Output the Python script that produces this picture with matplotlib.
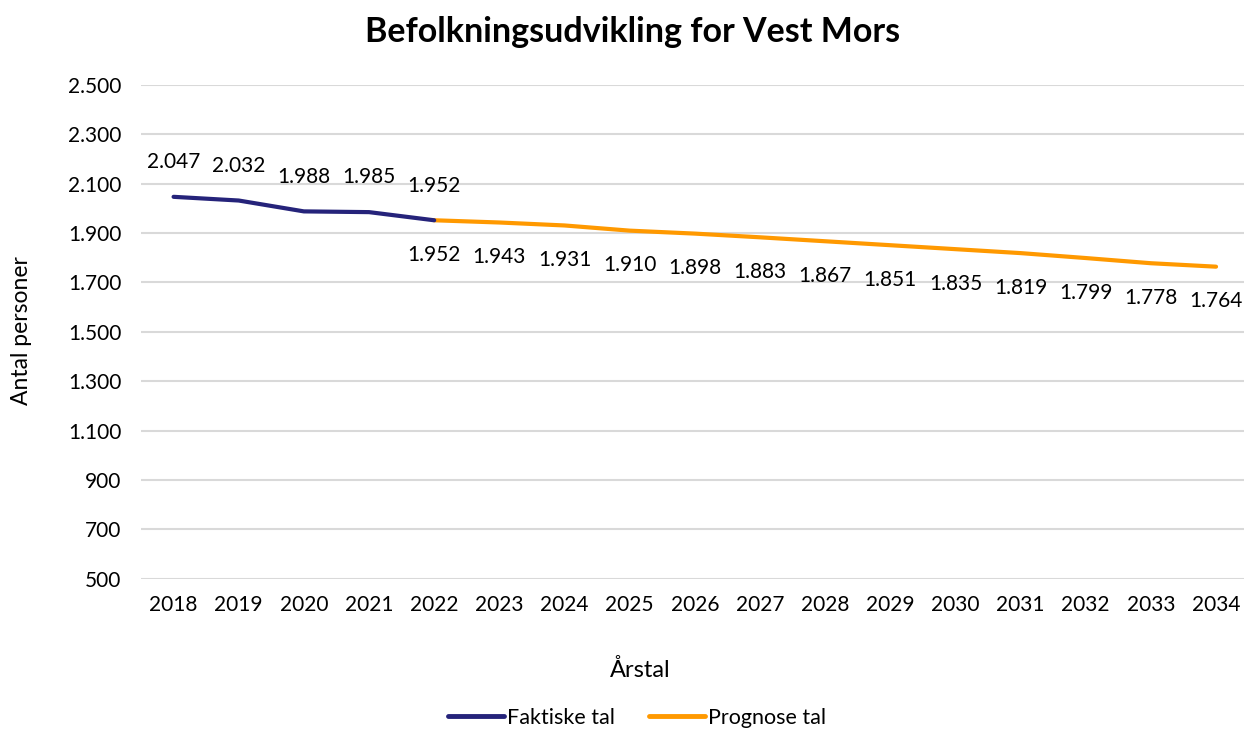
import matplotlib
matplotlib.use("Agg")
import matplotlib.pyplot as plt

# Population data for Vest Mors
years_actual = [2018, 2019, 2020, 2021, 2022]
values_actual = [2047, 2032, 1988, 1985, 1952]
years_forecast = [2022, 2023, 2024, 2025, 2026, 2027, 2028, 2029, 2030,
                  2031, 2032, 2033, 2034]
values_forecast = [1952, 1943, 1931, 1910, 1898, 1883, 1867, 1851, 1835,
                   1819, 1799, 1778, 1764]
all_years = list(range(2018, 2035))
y_ticks = [500, 700, 900, 1100, 1300, 1500, 1700, 1900, 2100, 2300, 2500]

title = "Befolkningsudvikling for Vest Mors"
x_label = "Årstal"
y_label = "Antal personer"
label_actual = "Faktiske tal"
label_forecast = "Prognose tal"

plt.rcParams["font.family"] = ["Lato", "DejaVu Sans"]

W, H = 1244, 731
fig = plt.figure(figsize=(W / 100, H / 100), dpi=100)
left, right = 141, 1248.6
top, bottom = 85, 578.7
ax = fig.add_axes([left / W, (H - bottom) / H, (right - left) / W, (bottom - top) / H])

navy = "#25237A"
orange = "#FF9900"


def fmt(v):
    return f"{v:,}".replace(",", ".")


idx = {y: i for i, y in enumerate(all_years)}
xa = [idx[y] for y in years_actual]
xf = [idx[y] for y in years_forecast]

ax.plot(xf, values_forecast, color=orange, lw=3.0, solid_capstyle="round", zorder=3,
        label=label_forecast)
ax.plot(xa, values_actual, color=navy, lw=3.0, solid_capstyle="round", zorder=4,
        label=label_actual)

for x, v in zip(xa, values_actual):
    ax.annotate(fmt(v), (x, v), xytext=(0, 25), textcoords="offset points",
                ha="center", va="center", fontsize=15, color="#000000")
for x, v in zip(xf, values_forecast):
    ax.annotate(fmt(v), (x, v), xytext=(0, -25), textcoords="offset points",
                ha="center", va="center", fontsize=15, color="#000000")

ax.set_xlim(-0.5, len(all_years) - 0.5)
ax.set_ylim(500, 2500)
ax.set_xticks(range(len(all_years)))
ax.set_xticklabels([str(y) for y in all_years])
ax.set_yticks(y_ticks)
ax.set_yticklabels([fmt(v) for v in y_ticks])
ax.tick_params(axis="both", length=0, labelsize=15, colors="#000000")
ax.tick_params(axis="x", pad=12)
ax.tick_params(axis="y", pad=14)
ax.grid(axis="y", color="#D9D9D9", lw=1.5)
ax.set_axisbelow(True)
for s in ax.spines.values():
    s.set_visible(False)

fig.text(633 / W, 1 - 32 / H, title, ha="center", va="center",
         fontsize=24.5, fontweight="bold")
fig.text(22 / W, 1 - 331 / H, y_label, ha="center", va="center",
         rotation=90, fontsize=16.5)
fig.text(640 / W, 1 - 670 / H, x_label, ha="center", va="center", fontsize=17)

handles, labels = ax.get_legend_handles_labels()
fig.legend(handles[::-1], labels[::-1], loc="center", ncol=2,
           bbox_to_anchor=(637 / W, 1 - 718 / H), frameon=False, fontsize=15.5,
           handlelength=2.6, handletextpad=0.15, columnspacing=1.6)
for line in fig.legends[0].get_lines():
    line.set_linewidth(3.5)

fig.savefig("out.png", dpi=100)
